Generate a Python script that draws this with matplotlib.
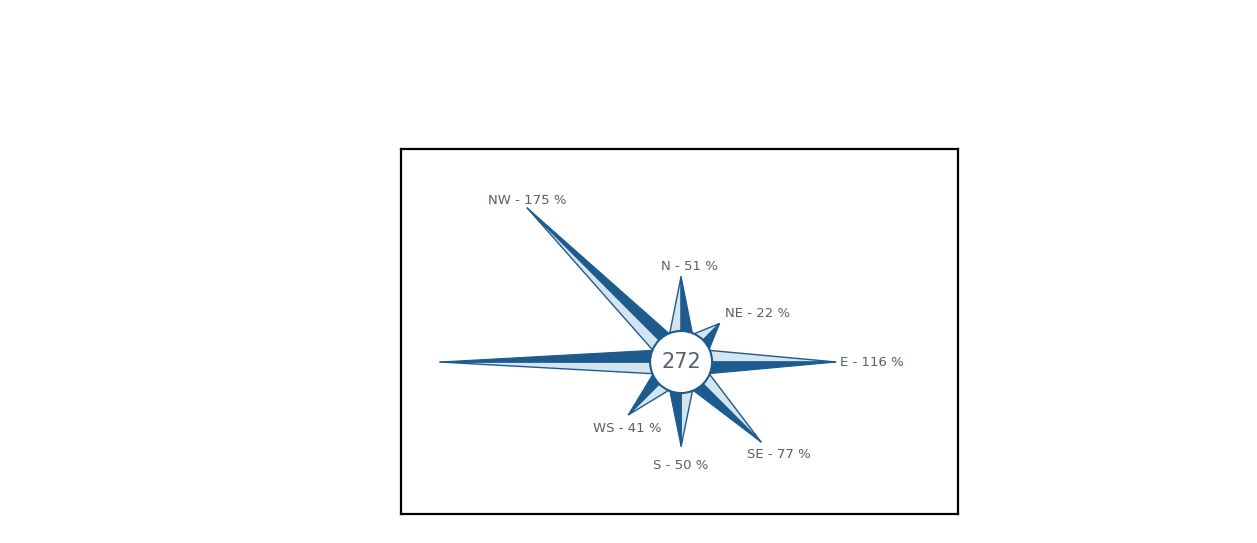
import numpy as np
import matplotlib.pyplot as plt
from matplotlib.patches import Polygon, Circle

# wind directions, angle in degrees (0 = east, counter-clockwise) and share values
directions = ['E', 'NE', 'N', 'NW', 'W', 'WS', 'S', 'SE']
angles = [0, 45, 90, 135, 180, 225, 270, 315]
values = [116, 22, 51, 175, 197, 41, 50, 77]
labels = ['E - 116 %', 'NE - 22 %', 'N - 51 %', 'NW - 175 %', '', 'WS - 41 %', 'S - 50 %', 'SE - 77 %']
total = '272'

dark = '#1d5a8e'
light = '#d4e5f2'
text_col = '#55606b'

R0 = 29       # radius of the central disc
base_r = 25   # where each point starts
half_w = 11   # half width of a point at its base

# label offsets (points) and alignment per direction
label_pos = {
    'E': ((3, 0), 'left', 'center'),
    'NE': ((4, 7), 'left', 'center'),
    'N': ((6, 7), 'center', 'center'),
    'NW': ((0, 5), 'center', 'center'),
    'WS': ((-1, -10), 'center', 'center'),
    'S': ((0, -9), 'center', 'top'),
    'SE': ((13, -4), 'center', 'top'),
}

fig = plt.figure(figsize=(12.57, 5.43), dpi=100)
ax = fig.add_axes([401 / 1257, 29 / 543, 557 / 1257, 365 / 543])
ax.set_xlim(-262, 259)
ax.set_ylim(-142, 199)
ax.set_xticks([])
ax.set_yticks([])
for sp in ax.spines.values():
    sp.set_linewidth(1.6)
    sp.set_color('black')

for d, a, v, lab in zip(directions, angles, values, labels):
    t = np.deg2rad(a)
    u = np.array([np.cos(t), np.sin(t)])
    cw = np.array([u[1], -u[0]])   # clockwise side
    L = R0 + v
    p0 = base_r * u
    tip = L * u
    dark_half = Polygon([p0, p0 + half_w * cw, tip], closed=True,
                        facecolor=dark, edgecolor=dark, lw=0.8, zorder=2)
    light_half = Polygon([p0, p0 - half_w * cw, tip], closed=True,
                         facecolor=light, edgecolor=dark, lw=1.0, zorder=2)
    ax.add_patch(light_half)
    ax.add_patch(dark_half)
    if lab:
        off, ha, va = label_pos[d]
        ax.annotate(lab, xy=tip, xytext=off, textcoords='offset points',
                    ha=ha, va=va, fontsize=9.5, color=text_col)

ax.add_patch(Circle((0, 0), R0, facecolor='white', edgecolor=dark, lw=1.5, zorder=3))
ax.text(0, 0, total, ha='center', va='center', fontsize=15, color=text_col, zorder=4)

fig.savefig('out.png', dpi=100)
